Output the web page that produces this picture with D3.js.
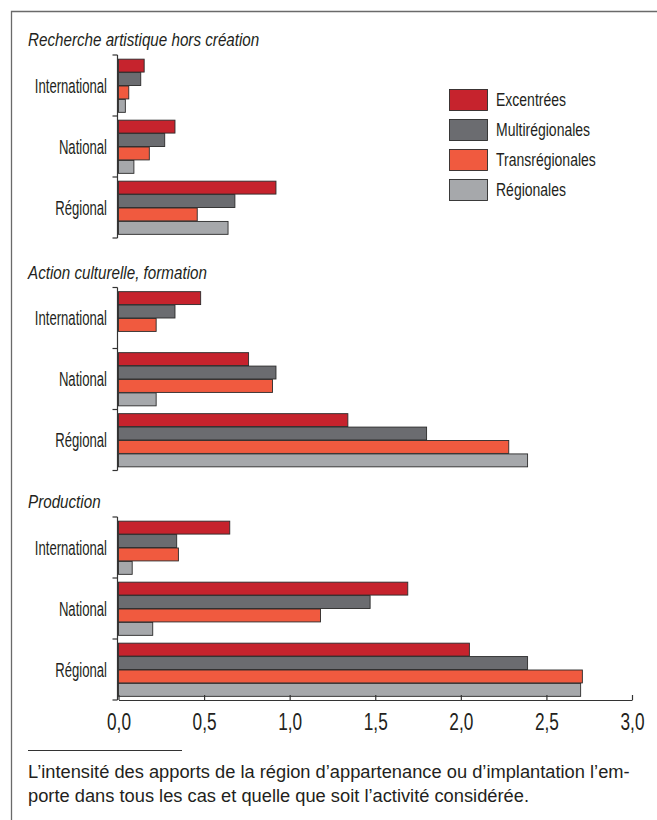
<!DOCTYPE html>
<html><head><meta charset="utf-8">
<script src="https://cdn.jsdelivr.net/npm/d3@7/dist/d3.min.js"></script>
<style>
html,body{margin:0;padding:0;background:#fff;}
svg{display:block;}
</style></head>
<body>
<script>
const panels = ["Recherche artistique hors création", "Action culturelle, formation", "Production"];
const categories = ["International", "National", "Régional"];
const series = ["Excentrées", "Multirégionales", "Transrégionales", "Régionales"];
const colors = ["#c6232d", "#6b6c70", "#f05a3f", "#a6a8ab"];
// values indexed [panel][category]
const excentrees      = [[0.15, 0.33, 0.92], [0.48, 0.76, 1.34], [0.65, 1.69, 2.05]];
const multiregionales = [[0.13, 0.27, 0.68], [0.33, 0.92, 1.80], [0.34, 1.47, 2.39]];
const transregionales = [[0.06, 0.18, 0.46], [0.22, 0.90, 2.28], [0.35, 1.18, 2.71]];
const regionales      = [[0.04, 0.09, 0.64], [null, 0.22, 2.39], [0.08, 0.20, 2.70]];
const xTicks = [0, 0.5, 1, 1.5, 2, 2.5, 3];
const note = ["L’intensité des apports de la région d’appartenance ou d’implantation l’em-",
              "porte dans tous les cas et quelle que soit l’activité considérée."];

const seriesValues = [excentrees, multiregionales, transregionales, regionales];
const W = 657, H = 820;
const FONT = "'Liberation Sans', Arial, Helvetica, sans-serif";
const svg = d3.select("body").append("svg").attr("width", W).attr("height", H);

// condensed text helper (horizontal squeeze of a regular sans)
function ctext(sel, x, y, txt, size, sx, anchor, italic, dy) {
  return sel.append("text")
    .attr("transform", `translate(${x},${y}) scale(${sx},1)`)
    .attr("font-family", FONT).attr("font-size", size)
    .attr("font-style", italic ? "italic" : "normal")
    .attr("text-anchor", anchor || "start")
    .attr("dy", dy || 0)
    .attr("fill", "#231f20").text(txt);
}

// frame
svg.append("path").attr("d", `M11.5,${H} V11.5 H${W}`).attr("fill", "none")
  .attr("stroke", "#6a6a6a").attr("stroke-width", 1.3);

const x = d3.scaleLinear().domain([0, 3]).range([118.5, 632]);
const panelTops = [55, 287.5, 517];
const panelH = 183;

panels.forEach((title, p) => {
  const top = panelTops[p];
  const y = d3.scaleBand().domain(categories).range([top, top + panelH]).paddingInner(0.12).paddingOuter(0.06);
  const ys = d3.scaleBand().domain(series).range([0, y.bandwidth()]);
  const g = svg.append("g");

  ctext(g, 28, top - 9, title, 19, 0.8, "start", true);

  // bars
  categories.forEach((c, ci) => {
    series.forEach((s, si) => {
      const v = seriesValues[si][p][ci];
      if (v == null) return;
      g.append("rect")
        .attr("x", x(0)).attr("y", y(c) + ys(s) + 0.5)
        .attr("width", x(v) - x(0)).attr("height", ys.bandwidth() - 0.5)
        .attr("fill", colors[si]).attr("stroke", "#2b2b2b").attr("stroke-width", 0.9);
    });
  });

  // bracket axis
  const yaxisG = g.append("g").attr("transform", `translate(${x(0) - 1},0)`);
  yaxisG.append("line").attr("x1", 0).attr("x2", 0).attr("y1", top).attr("y2", top + panelH)
    .attr("stroke", "#333").attr("stroke-width", 1.2);
  const edges = d3.range(4).map(i => top + i * panelH / 3);
  yaxisG.selectAll("line.tk").data(edges).join("line").attr("class", "tk")
    .attr("x1", -5).attr("x2", 0).attr("y1", d => d).attr("y2", d => d)
    .attr("stroke", "#333").attr("stroke-width", 1.2);

  // category labels
  categories.forEach(c => {
    ctext(g, 107, y(c) + y.bandwidth() / 2, c, 20.5, 0.64, "end", false, "0.35em");
  });
});

// x axis
const axisY = panelTops[2] + panelH;
const xAxis = d3.axisBottom(x).tickValues(xTicks).tickSize(-5).tickSizeOuter(0)
  .tickFormat(d => d3.format(".1f")(d).replace(".", ","));
const xg = svg.append("g").attr("transform", `translate(0,${axisY})`).call(xAxis);
xg.select(".domain").attr("stroke", "#333").attr("stroke-width", 1.2);
xg.selectAll(".tick line").attr("stroke", "#333").attr("stroke-width", 1.2);
xg.selectAll(".tick").each(function(d) {
  const tk = d3.select(this);
  tk.selectAll("text").remove();
  ctext(tk, 0, 29.5, d3.format(".1f")(d).replace(".", ","), 23, 0.75, "middle", false);
});

// footnote
svg.append("line").attr("x1", 28).attr("x2", 182).attr("y1", 750.5).attr("y2", 750.5)
  .attr("stroke", "#333").attr("stroke-width", 1);
note.forEach((d, i) => {
  svg.append("text").attr("x", 28).attr("y", 778 + i * 24)
    .attr("font-family", FONT).attr("font-size", 18.3).attr("fill", "#231f20").text(d);
});

// legend
const lg = svg.append("g").attr("transform", "translate(449,89)");
series.forEach((s, i) => {
  lg.append("rect").attr("x", 0.5).attr("y", i * 30 + 0.5).attr("width", 38).attr("height", 21)
    .attr("fill", colors[i]).attr("stroke", "#2b2b2b").attr("stroke-width", 0.9);
  ctext(lg, 47, i * 30 + 11, s, 18.5, 0.757, "start", false, "0.35em");
});
</script>
</body></html>
